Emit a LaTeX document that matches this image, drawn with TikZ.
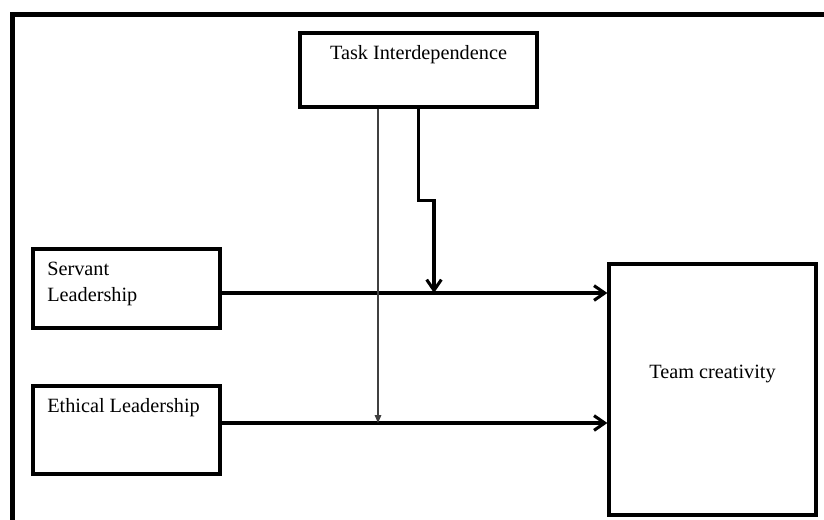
\documentclass[tikz,border=0pt]{standalone}
\usepackage{fontspec}
\setmainfont{Liberation Serif}
\usetikzlibrary{arrows.meta,calc,positioning}

\begin{document}
\begin{tikzpicture}[
        x=0.75pt, y=-0.75pt,
        box/.style={rectangle, draw, line width=2.4pt, inner sep=0pt},
        lbl/.style={inner sep=0pt, font=\fontsize{15.2}{19.5}\selectfont, align=left},
        flow/.style={line width=2.3pt, -{Straight Barb[length=8pt,width=11pt,line width=2.3pt]}},
        cue/.style={line width=0.8pt, black!75, -{Triangle[length=6pt,width=5pt]}}
    ]
        \useasboundingbox (0,0) rectangle (824,520);
        % outer frame, cut at right and bottom
        \draw[line width=3.8pt] (12.5,520) -- (12.5,14.5) -- (824,14.5);

        \node[box, minimum width=177.75pt, minimum height=55.5pt] (task) at (418.5,70) {};
        \node[lbl, anchor=base] (tasktxt) at (418.5,60) {Task Interdependence};

        \node[box, minimum width=140.25pt, minimum height=59.25pt] (servant) at (126.5,288.5) {};
        \node[lbl, anchor=north west] (servanttxt) at (47,261.5) {Servant\\Leadership};

        \node[box, minimum width=140.25pt, minimum height=66pt] (ethical) at (126.5,430) {};
        \node[lbl, anchor=base west] (ethicaltxt) at (47,412) {Ethical Leadership};

        \node[box, minimum width=155.25pt, minimum height=188.25pt] (team) at (712.5,389.5) {};
        \node[lbl, anchor=base] (teamtxt) at (712.5,378) {Team creativity};

        % moderation points on the main paths
        \coordinate (sj) at (434,293);
        \coordinate (ej) at (378,423);

        \draw[flow] (servant.east |- sj) -- (team.west |- sj);
        \draw[flow] (ethical.east |- ej) -- (team.west |- ej);
        \draw[flow] (task.south) -- ++(0,92) -| (sj);
        \draw[cue] (task.south -| ej) -- (ej);
    \end{tikzpicture}
\end{document}
